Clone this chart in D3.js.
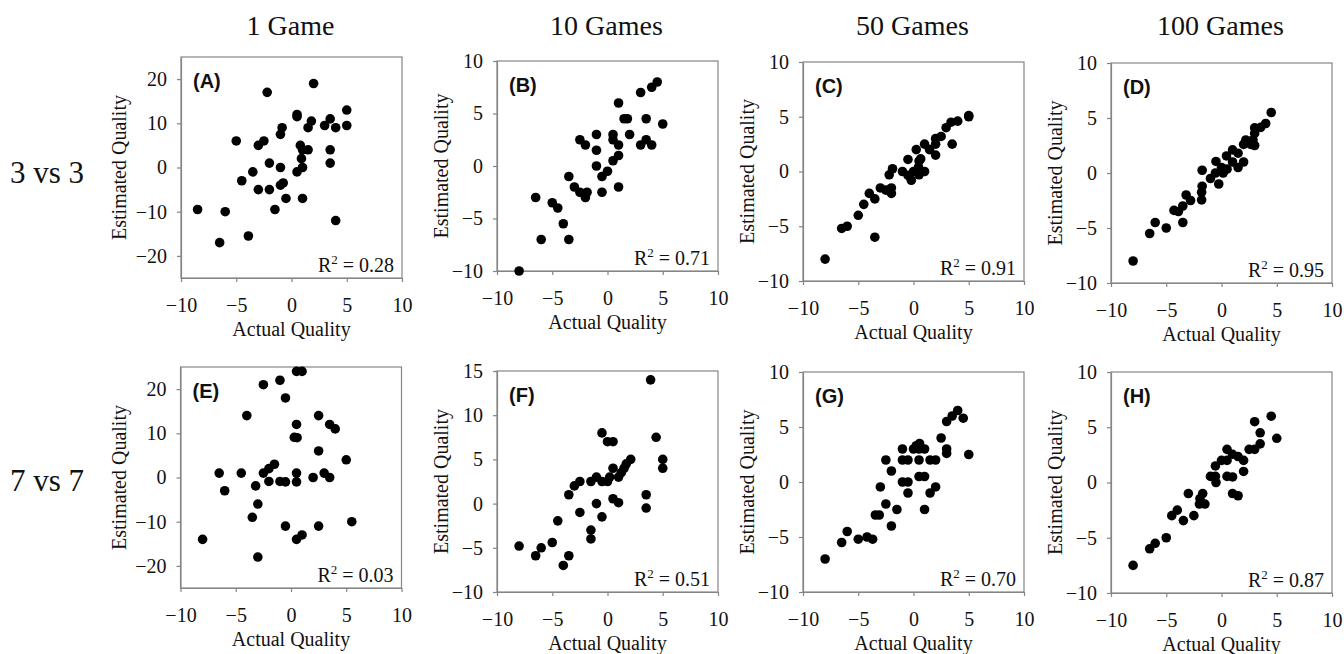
<!DOCTYPE html>
<html>
<head>
<meta charset="utf-8">
<script src="https://cdn.jsdelivr.net/npm/d3@7"></script>
<style>
  body { margin: 0; background: #fff; }
  svg { display: block; }
  text { font-family: "Liberation Serif", "Times New Roman", serif; fill: #111; }
</style>
</head>
<body>
<div id="container"></div>
<script>
/* DATA */
const columnTitles = ["1 Game", "10 Games", "50 Games", "100 Games"];
const rowLabels = ["3 vs 3", "7 vs 7"];
const panelLetters = ["(A)", "(B)", "(C)", "(D)", "(E)", "(F)", "(G)", "(H)"];
const rSquared = ["0.28", "0.71", "0.91", "0.95", "0.03", "0.51", "0.70", "0.87"];

const xTicks = [-10, -5, 0, 5, 10];
const yTicksWide = [-20, -10, 0, 10, 20];
const yTicksF = [-10, -5, 0, 5, 10, 15];
const yTicksNarrow = [-10, -5, 0, 5, 10];

// [actual, estimated]
const pointsA = [[-8.5,-9.5],[-6.5,-17],[-6,-10],[-5,6],[-4.5,-3],[-3.9,-15.5],[-3.5,-1],[-3,5],[-3,-5],[-2.5,6],
  [-2.2,17],[-2,1],[-2,-5],[-1.5,-9.5],[-1,0],[-1,-4],[-0.75,-3.5],[-0.5,-7],[-1,7.5],[-0.85,9],
  [0.5,12],[0.5,11.5],[0.5,-1],[0.8,5],[0.9,2],[1,0],[1,-7],[1,4],[1.5,4],[1.5,9],
  [1.8,10.5],[2,19],[3,9.5],[3.5,11],[3.5,4],[3.5,1],[4,9],[4,-12],[5,13],[5,9.5]];
const pointsB = [[-8,-10],[-6.5,-3],[-6,-7],[-5,-3.5],[-4.5,-4],[-4,-5.5],[-3.5,-7],[-3.5,-1],[-3,-2],[-2.5,-2.5],
  [-2.5,2.5],[-2,2],[-2,-3],[-1.85,-2.5],[-1,3],[-1,1.5],[-1,0],[-0.5,-1],[-0.5,-2.5],[0,-0.5],
  [0.5,3],[0.5,2.5],[0.5,0.5],[1,2],[1,6],[1,1],[1,-2],[1.5,4.5],[1.8,4.5],[2,3],
  [3,7],[3,2],[3.5,4.5],[3.5,2.5],[4,2],[4,7.5],[4.5,8],[5,4]];
const pointsC = [[-8,-8],[-6.5,-5.2],[-6,-5],[-5,-4],[-4.5,-3],[-4,-2],[-3.5,-2.5],[-3.5,-6],[-3,-1.5],[-2.5,-1.7],
  [-2,-2],[-2,-1.5],[-2.2,-0.3],[-1.9,0.25],[-1,0],[-0.5,1.1],[-0.5,-0.35],[-0.2,-0.8],[0,0],[0.25,2],
  [0.45,0.4],[0.5,0.95],[0.65,1.15],[0.5,-0.3],[1,0],[1,2.5],[1.45,2],[2,2.5],[2,3],[2,1.5],
  [2.5,3.2],[2.95,4],[3.4,4.5],[3.5,2.5],[4,4.6],[5,5],[5,5.1]];
const pointsD = [[-8,-8],[-6.5,-5.5],[-6,-4.5],[-5,-5],[-4.3,-3.4],[-3.9,-3.5],[-3.5,-4.5],[-3.5,-3],[-3.2,-2],[-2.8,-2.5],
  [-1.8,-2.45],[-1.8,-1.75],[-1.75,-1.2],[-1.75,0.25],[-1,-0.5],[-0.55,0],[-0.5,1.05],[-0.25,-1],[0,0.5],[0.15,0],
  [0.45,1.55],[0.5,0.35],[1,1],[1,2.1],[1.5,0.5],[1.5,1.8],[2,1],[2,2.6],[2.2,3],[2.65,2.6],
  [2.85,3],[3,3.6],[3,4.1],[3,2.5],[3.55,4.15],[4,4.5],[4.5,5.5]];
const pointsE = [[-8,-14],[-6.5,1],[-6,-3],[-4.5,1],[-4,14],[-3.5,-9],[-3.2,-1.9],[-3,-6],[-3,-18],[-2.5,1],
  [-2.5,21],[-2,2],[-2,-0.9],[-1.5,3],[-1,22],[-1,-0.9],[-0.5,-1],[-0.5,18],[-0.5,-11],[0.5,24],
  [1,24],[0.5,12],[0.3,9.1],[0.55,9],[0.5,1],[0.5,-1],[0.5,-14],[1,-13],[2,0],[2.5,14],
  [2.5,6],[2.5,-11],[3,1],[3.5,0],[3.5,12],[4,11],[5,4],[5.5,-10]];
const pointsF = [[-8,-4.8],[-6.5,-5.9],[-6,-5],[-5,-4.4],[-4.5,-1.95],[-4,-7],[-3.5,-5.9],[-3.5,1],[-3,2],[-2.5,2.5],
  [-2.5,-1],[-1.5,2.5],[-1.5,-3],[-1.5,-4],[-1,3],[-1,0],[-0.5,2.5],[-0.5,-1.5],[-0.5,8],[0,7],
  [0,2.5],[0.2,3],[0.5,7],[0.5,4],[0.5,0.55],[1,0.1],[1,3],[1.25,3.5],[1.5,4],[1.7,4.5],
  [2.1,5],[3.5,1],[3.5,-0.5],[3.9,14],[4.4,7.5],[5,5],[5,4]];
const pointsG = [[-8,-7],[-6.5,-5.5],[-6,-4.5],[-5,-5.2],[-4.2,-5],[-3.7,-5.2],[-3.45,-3],[-3.1,-3],[-3,-0.45],[-2.5,-2],
  [-2.5,2],[-2,1],[-2,-4],[-1.5,-2.5],[-1,3],[-1,2],[-1,0],[-0.5,2],[-0.5,0],[-0.5,-1],
  [0,3],[0.25,3.3],[0.5,3],[0.55,3.5],[0.5,2],[0.5,0.5],[1,3],[1,0.5],[1,-2.5],[1.5,2],
  [1.5,-1],[2,2],[2,-0.45],[2.5,4],[3,3],[3,2.6],[3,5.5],[3.5,6],[4,6.5],[4.5,5.8],[5,2.5]];
const pointsH = [[-8,-7.5],[-6.5,-6],[-6,-5.5],[-5,-5],[-4.5,-3],[-4,-2.5],[-3.45,-3.45],[-3,-1],[-2.5,-3],[-2,-1.95],
  [-1.95,-1.45],[-1.7,-1],[-1.5,-1.95],[-1,0.55],[-0.55,1.5],[-0.55,0.55],[-0.5,0],[0,2],[0.5,3],[0.5,2],
  [0.5,0.55],[1,2.55],[1,0.5],[1,-1],[1.5,2.35],[1.5,-1.2],[2,2],[2,1],[2.5,3],[3,5.5],
  [3,3],[3.5,3.5],[3.5,4.5],[4.5,6],[5,4]];

/* LAYOUT */
const width = 1344, height = 654;
const plotW = 221;
const colLeft = [181, 497, 803, 1111];
const ytitleOffset = [62, 56, 56, 56];
const rowTop = [[57, 61, 62, 63], [367, 371, 372, 372]];
const rowBottom = [[278, 271, 281, 283], [588, 592, 592, 593]];

const panels = [
  { pts: pointsA, ydom: [-25, 25], yt: yTicksWide },
  { pts: pointsB, ydom: [-10, 10], yt: yTicksNarrow },
  { pts: pointsC, ydom: [-10, 10], yt: yTicksNarrow },
  { pts: pointsD, ydom: [-10, 10], yt: yTicksNarrow },
  { pts: pointsE, ydom: [-25, 25], yt: yTicksWide },
  { pts: pointsF, ydom: [-10, 15], yt: yTicksF },
  { pts: pointsG, ydom: [-10, 10], yt: yTicksNarrow },
  { pts: pointsH, ydom: [-10, 10], yt: yTicksNarrow }
];

const frameColor = "#858585";

const svg = d3.select("#container")
  .append("svg")
  .attr("width", width)
  .attr("height", height);

// column titles
columnTitles.forEach((t, c) => {
  svg.append("text")
    .attr("x", colLeft[c] + plotW / 2 - 1)
    .attr("y", 35)
    .attr("text-anchor", "middle")
    .style("font-size", "28px")
    .text(t);
});

// row labels
rowLabels.forEach((t, r) => {
  svg.append("text")
    .attr("x", 47)
    .attr("y", r === 0 ? 183 : 491)
    .attr("text-anchor", "middle")
    .style("font-size", "31px")
    .text(t);
});

panels.forEach((p, i) => {
  const row = Math.floor(i / 4), col = i % 4;
  const left = colLeft[col] - (row === 1 && col === 0 ? 0.5 : 0);
  const top = rowTop[row][col], bottom = rowBottom[row][col];

  const xScale = d3.scaleLinear().domain([-10, 10]).range([left, left + plotW]);
  const yScale = d3.scaleLinear().domain(p.ydom).range([bottom, top]);

  const g = svg.append("g");

  // frame
  g.append("rect")
    .attr("x", left).attr("y", top)
    .attr("width", plotW).attr("height", bottom - top)
    .attr("fill", "none")
    .attr("stroke", frameColor)
    .attr("stroke-width", 1.2);

  // x axis
  const xAxis = g.append("g")
    .attr("transform", `translate(0,${bottom})`)
    .call(d3.axisBottom(xScale).tickValues(xTicks).tickSize(4).tickPadding(16).tickSizeOuter(0));
  // y axis
  const yAxis = g.append("g")
    .attr("transform", `translate(${left},0)`)
    .call(d3.axisLeft(yScale).tickValues(p.yt).tickSize(4).tickPadding(10).tickSizeOuter(0));

  [xAxis, yAxis].forEach(a => {
    a.select(".domain").attr("stroke", frameColor).attr("stroke-width", 1.2);
    a.selectAll(".tick line").attr("stroke", frameColor).attr("stroke-width", 1.2);
    a.selectAll(".tick text")
      .attr("fill", "#111")
      .style("font-family", '"Liberation Serif", "Times New Roman", serif')
      .style("font-size", "20px");
  });

  // axis titles
  g.append("text")
    .attr("x", left + plotW / 2)
    .attr("y", bottom + 58)
    .attr("text-anchor", "middle")
    .style("font-size", "20px")
    .text("Actual Quality");

  g.append("text")
    .attr("transform", `translate(${left - ytitleOffset[col]},${(top + bottom) / 2}) rotate(-90)`)
    .attr("text-anchor", "middle")
    .attr("dy", "0.35em")
    .style("font-size", "20px")
    .text("Estimated Quality");

  // panel letter
  g.append("text")
    .attr("x", left + 12)
    .attr("y", top + 31)
    .style("font-family", '"Liberation Sans", Arial, sans-serif')
    .style("font-weight", "bold")
    .style("font-size", "20px")
    .text(panelLetters[i]);

  // R squared
  const rt = g.append("text")
    .attr("x", left + plotW - 8)
    .attr("y", bottom - 6)
    .attr("text-anchor", "end")
    .style("font-size", "20px");
  rt.append("tspan").text("R");
  rt.append("tspan").attr("dy", -8).style("font-size", "13px").text("2");
  rt.append("tspan").attr("dy", 8).text(" = " + rSquared[i]);

  // dots
  g.selectAll(".dot")
    .data(p.pts)
    .join("circle")
    .attr("class", "dot")
    .attr("cx", d => xScale(d[0]))
    .attr("cy", d => yScale(d[1]))
    .attr("r", 4.8)
    .attr("fill", "#000");
});
</script>
</body>
</html>
